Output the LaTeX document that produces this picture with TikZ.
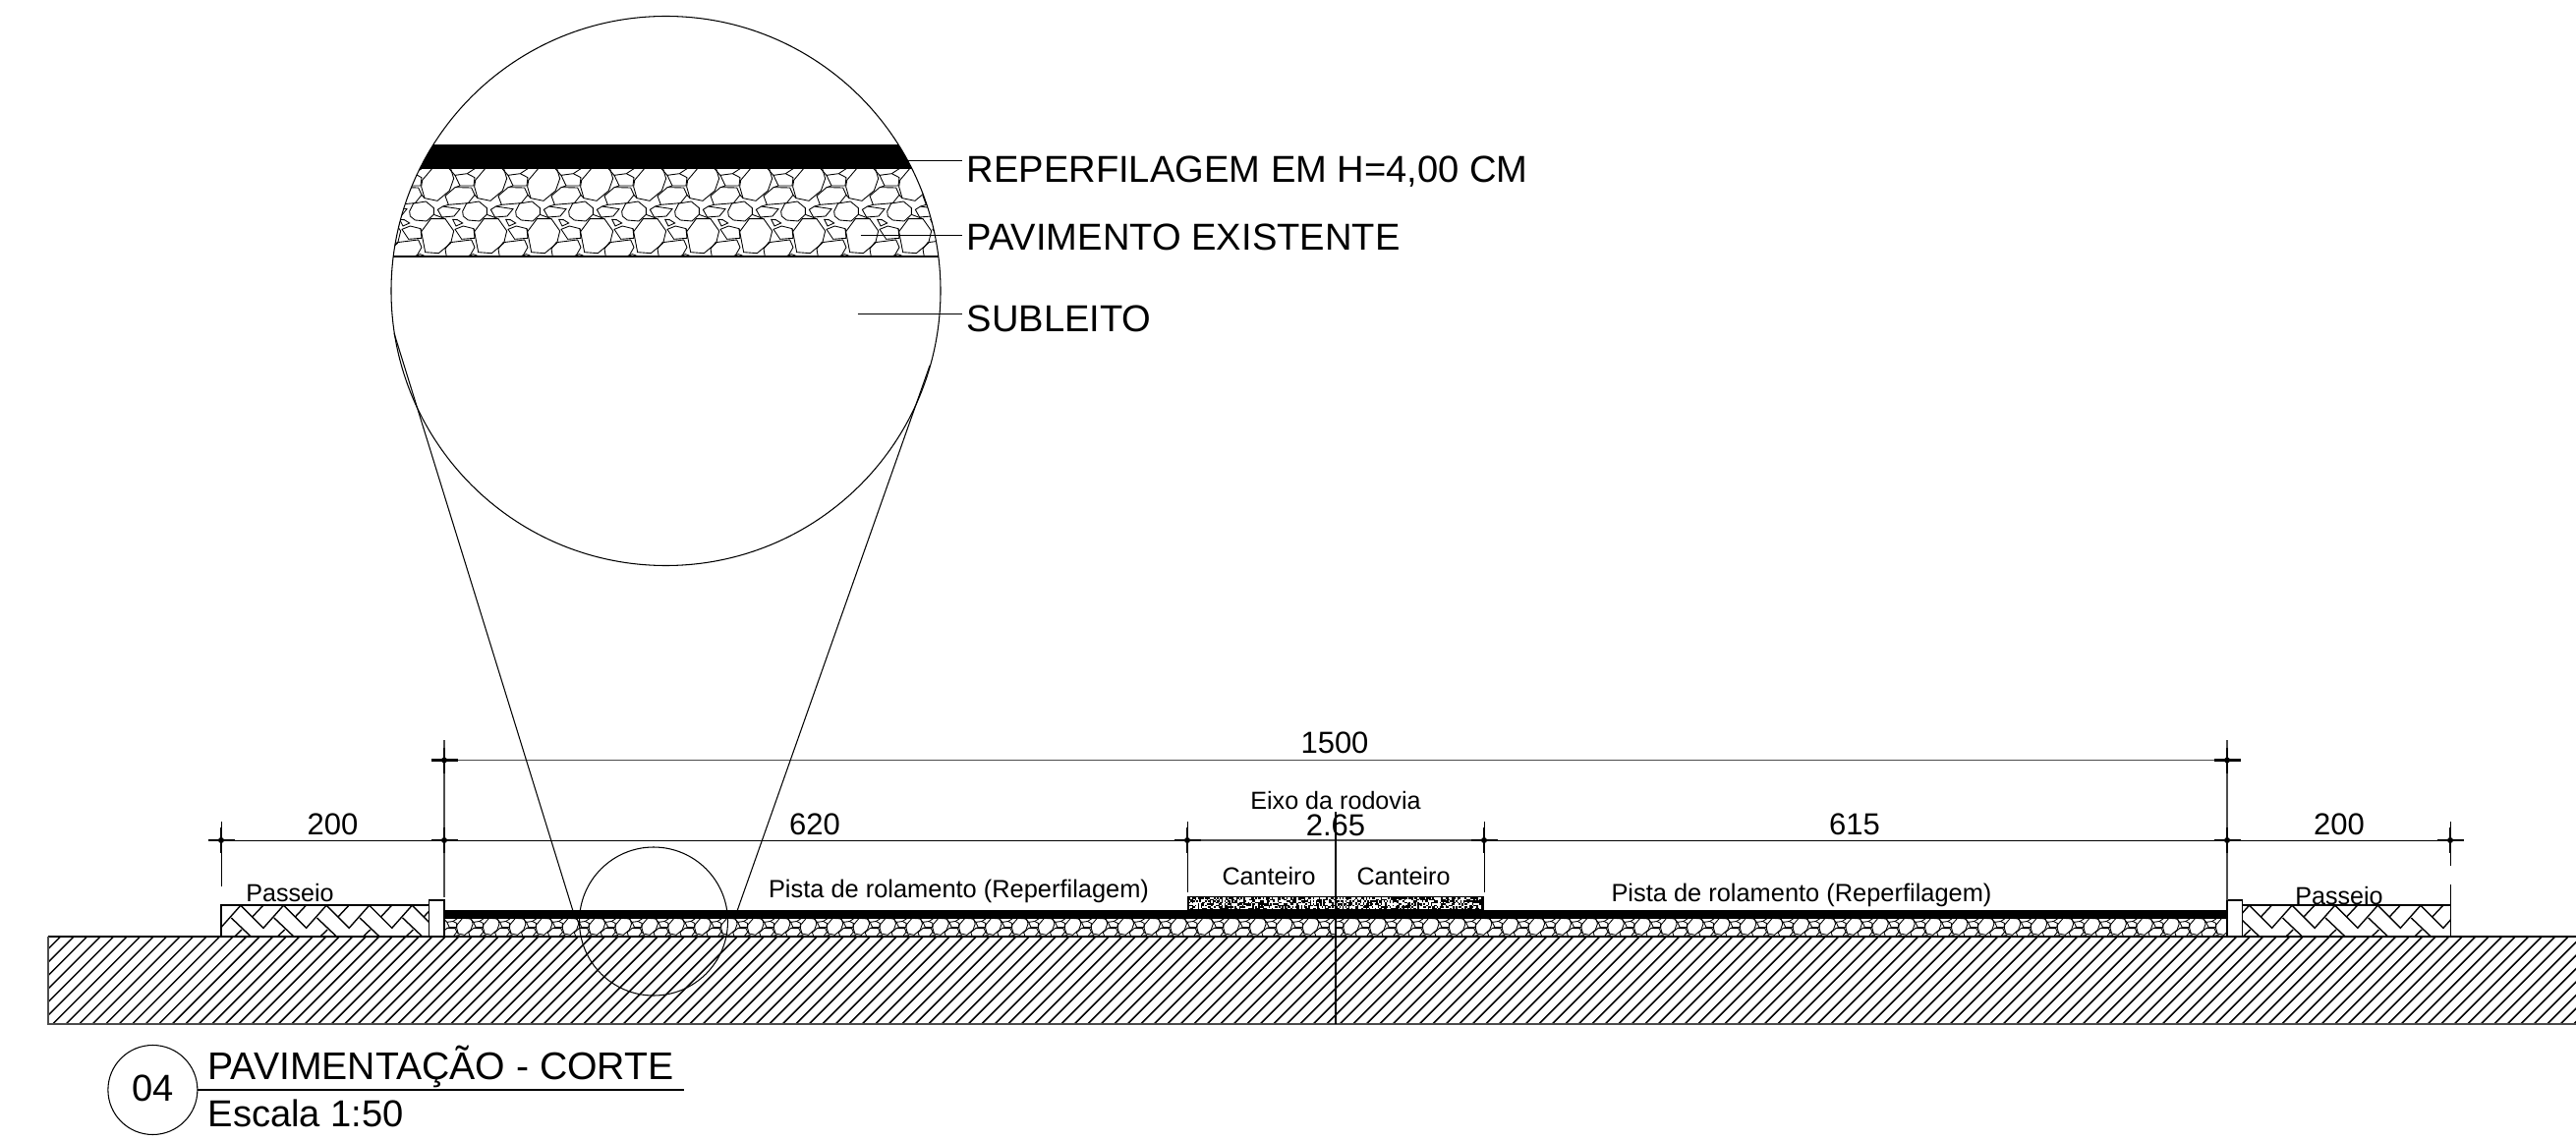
\documentclass[tikz,border=0pt]{standalone}
\usepackage{fontspec}
\setmainfont{Liberation Sans}

% one paving stone pattern, coordinates of one repeat
\newcommand{\stonetile}{
   \draw[stone] (134,75) -- (144,110) -- (183,118) -- (220,87) -- (233,50) -- (224,20) -- (170,16) -- (137,55) -- cycle;
   \draw[stone] (75,40) -- (112,35) -- (135,47) -- (132,72) -- (90,72) -- cycle;
   \draw[stone] (45,103) -- (75,77) -- (125,78) -- (135,100) -- (115,125) -- (55,130) -- cycle;
   \draw[stone] (98,150) -- (110,126) -- (148,120) -- (172,140) -- (172,160) -- (150,180) -- (115,177) -- (100,165) -- cycle;
   \draw[stone] (22,145) -- (38,135) -- (90,143) -- (72,165) -- (35,168) -- cycle;
   \draw[stone] (68,175) -- (82,176) -- (98,186) -- (78,195) -- cycle;
   \draw[stone] (134,212) -- (163,173) -- (207,173) -- (233,210) -- (224,247) -- (187,278) -- (146,275) -- cycle;
   \draw[stone] (75,205) -- (100,195) -- (132,203) -- (135,232) -- (95,235) -- cycle;
   \draw[stone] (45,265) -- (60,245) -- (125,237) -- (135,260) -- (115,295) -- (50,295) -- cycle;
   \draw[stone] (105,290) -- (130,281) -- (155,290);
   \draw[stone] (55,18) -- (75,40) (138,18) -- (112,35) (90,72) -- (75,77) (135,100) -- (144,110);
   \draw[stone] (55,130) -- (38,135) (172,160) -- (207,173) (134,212) -- (132,203);
}

% herringbone of the sidewalk, #1 is where the first strip starts
\newcommand{\pavertile}[1]{
   \foreach \k in {-1,...,5} {
      \begin{scope}[shift = {({#1 + \k * 43.6}, 0)}]
         \draw[paver] (0, 921) -- (23.3, 944.3) -- (44, 921);
         \draw[paver] (-9.4, 934) -- (10.6, 953);
         \draw[paver] (23.3, 921) -- (12.3, 932.7);
         \draw[paver] (-6, 953) -- (1.3, 946);
      \end{scope}
   }
}

\begin{document}
\begin{tikzpicture}
      [x = 0.1mm, y = -0.1mm,
      thinline/.style = {line width = 0.3pt},
      stone/.style = {line width = 0.25pt},
      paver/.style = {line width = 0.4pt},
      hatchline/.style = {line width = 0.42pt},
      dimline/.style = {line width = 0.28pt},
      greyline/.style = {line width = 0.4pt, black!70},
      cross/.style = {line width = 0.65pt},
      dimlabel/.style = {anchor = base, inner sep = 0pt, font = \fontsize{8.82pt}{10pt}\selectfont},
      smalllabel/.style = {anchor = base, inner sep = 0pt, font = \fontsize{7.15pt}{9pt}\selectfont},
      pistalabel/.style = {anchor = base, inner sep = 0pt, font = \fontsize{7.23pt}{9pt}\selectfont},
      biglabel/.style = {anchor = base west, inner sep = 0pt, font = \fontsize{10.85pt}{13pt}\selectfont},
      titlelabel/.style = {anchor = base west, inner sep = 0pt, font = \fontsize{11.15pt}{13pt}\selectfont}
      ]

      \fill[white] (0, 0) rectangle (2621, 1160);
      \useasboundingbox (0, 0) rectangle (2621, 1160);

      % ground
      \begin{scope}
         \clip (49, 953) rectangle (2621, 1042);
         \foreach \x in {48.2, 61.7, ..., 2717} {
            \draw[hatchline] (\x, 953) -- (\x - 89, 1042);
         }
      \end{scope}
      \draw[line width = 0.45pt] (2621, 953) -- (49, 953);
      \draw[line width = 0.3pt, black!70] (49, 953) -- (49, 1042) -- (2621, 1042);

      % sidewalks and curbs
      \begin{scope}
         \clip (225, 921) rectangle (436.5, 953);
         \pavertile{244.7}
      \end{scope}
      \begin{scope}
         \clip (2281.7, 921) rectangle (2493, 953);
         \pavertile{2288.3}
      \end{scope}
      \draw[thinline] (225, 953) -- (225, 921) -- (436.5, 921);
      \draw[thinline] (2281.7, 921) -- (2493, 921) -- (2493, 953);
      \draw[line width = 0.4pt] (436.5, 953) rectangle (452, 916);
      \draw[line width = 0.4pt] (2266, 953) rectangle (2281.7, 916);

      % road layers
      \begin{scope}
         \clip (452, 935) rectangle (1359, 953);
         \foreach \k in {-31, ..., 3} {
            \begin{scope}[shift = {({1276.2 + \k * 26.9}, 931.67)}, scale = 0.16667]
               \stonetile
            \end{scope}
         }
      \end{scope}
      \begin{scope}
         \clip (1359, 935) rectangle (2266, 953);
         \foreach \k in {-1, ..., 34} {
            \begin{scope}[shift = {({1344.5 + \k * 26.9}, 931.67)}, scale = 0.16667]
               \stonetile
            \end{scope}
         }
      \end{scope}
      \fill[black] (452, 926) rectangle (2266, 935);

      % planter
      \fill[black] (1208, 911.5) rectangle (1510, 926);
      \pgfmathsetseed{11}
      \foreach \i in {0, ..., 197} {
         \foreach \j in {0, ..., 7} {
            \pgfmathsetmacro{\spk}{int(rnd * 100)}
            \ifnum\spk<48
               \fill[white] ({1209.5 + \i * 1.5}, {913 + \j * 1.5}) rectangle ++(1.5, 1.5);
            \fi
         }
      }

      % dimensions
      \coordinate (tickA) at (225, 855);
      \coordinate (tickB) at (452, 855);
      \coordinate (tickC) at (1208, 855);
      \coordinate (tickD) at (1510, 855);
      \coordinate (tickE) at (2266, 855);
      \coordinate (tickF) at (2493, 855);
      \coordinate (tickG) at (452, 773.5);
      \coordinate (tickH) at (2266, 773.5);

      \draw[dimline] (tickA) -- (tickC);
      \draw[greyline] (tickC) -- (tickD);
      \draw[dimline] (tickD) -- (tickF);
      \draw[greyline] (tickG) -- (tickH);

      \draw[dimline] (225, 836) -- (225, 902);
      \draw[greyline] (452, 753) -- (452, 913);
      \draw[dimline] (1208, 836) -- (1208, 908);
      \draw[dimline] (1510, 836) -- (1510, 908);
      \draw[greyline] (2266, 753) -- (2266, 916);
      \draw[dimline] (2493, 836) -- (2493, 881);
      \draw[dimline] (2493, 900) -- (2493, 921);

      \foreach \tick in {tickA, tickB, tickC, tickD, tickE, tickF, tickG, tickH} {
         \draw[cross] (\tick) ++(-13.5, 0) -- ++(27, 0);
         \draw[cross] (\tick) ++(0, -13) -- ++(0, 26);
         \fill (\tick) circle (3);
      }

      % road axis
      \draw[line width = 0.45pt] (1359, 826) -- (1359, 1042);

      % detail circle and the lines to it
      \node[circle, draw, thinline, minimum size = 151 * 0.1mm, inner sep = 0pt] (smallring) at (665, 937.5) {};
      \node[circle, draw, thinline, minimum size = 559 * 0.1mm, inner sep = 0pt] (bigring) at (677.5, 296) {};
      \coordinate (leftfoot) at (583, 927);
      \coordinate (lefttop) at (401, 339);
      \coordinate (rightfoot) at (750, 927);
      \coordinate (righttop) at (946, 372);
      \draw[thinline] (lefttop) -- (leftfoot);
      \draw[thinline] (righttop) -- (rightfoot);

      % layers inside the big circle
      \begin{scope}
         \clip (677.5, 296) circle (279.5);
         \begin{scope}
            \clip (390, 172) rectangle (965, 261);
            \foreach \k in {-5, ..., 7} {
               \begin{scope}[shift = {({600 + \k * 54}, 165)}, scale = 0.33333]
                  \stonetile
               \end{scope}
            }
         \end{scope}
         \fill[black] (390, 147) rectangle (965, 172);
         \draw[line width = 0.4pt] (390, 261) -- (965, 261);
      \end{scope}

      % layer labels
      \node[biglabel] (resurface) at (983, 185.5) {REPERFILAGEM EM H=4,00 CM};
      \node[biglabel] (existing) at (983, 254.5) {PAVIMENTO EXISTENTE};
      \node[biglabel] (subgrade) at (983, 338) {SUBLEITO};
      \coordinate (resurfaceend) at (923, 163);
      \coordinate (existingend) at (875.5, 239);
      \coordinate (subgradeend) at (872.5, 319);
      \draw[dimline] (resurfaceend) -- (979, 163);
      \draw[dimline] (existingend) -- (979, 239);
      \draw[dimline] (subgradeend) -- (979, 319);

      % texts of the section
      \node[dimlabel] (total) at (1358, 767) {1500};
      \node[dimlabel] (walkleft) at (338.5, 849) {200};
      \node[dimlabel] (roadleft) at (829, 849) {620};
      \node[dimlabel] (median) at (1359, 850) {2.65};
      \node[dimlabel] (roadright) at (1887, 849) {615};
      \node[dimlabel] (walkright) at (2380, 849) {200};

      \node[smalllabel] (axis) at (1359, 823) {Eixo da rodovia};
      \node[smalllabel] (plantleft) at (1291, 900) {Canteiro};
      \node[smalllabel] (plantright) at (1428, 900) {Canteiro};
      \node[pistalabel] (pistaleft) at (975.5, 913) {Pista de rolamento (Reperfilagem)};
      \node[pistalabel] (pistaright) at (1833, 917) {Pista de rolamento (Reperfilagem)};
      \node[smalllabel] (passleft) at (295, 917.5) {Passeio};
      \node[smalllabel] (passright) at (2380, 920) {Passeio};

      % title
      \node[circle, draw, thinline, minimum size = 91 * 0.1mm, inner sep = 0pt] (number) at (155.4, 1109) {};
      \node[anchor = center, inner sep = 0pt, font = \fontsize{10.85pt}{13pt}\selectfont] (numbertext) at (155.4, 1107) {04};
      \coordinate (ruleend) at (696, 1109);
      \draw[line width = 0.4pt] (number.east) -- (ruleend);
      \node[titlelabel] (title) at (211, 1098) {PAVIMENTAÇÃO - CORTE};
      \node[biglabel] (scaletext) at (211, 1146) {Escala 1:50};

   \end{tikzpicture}
\end{document}
